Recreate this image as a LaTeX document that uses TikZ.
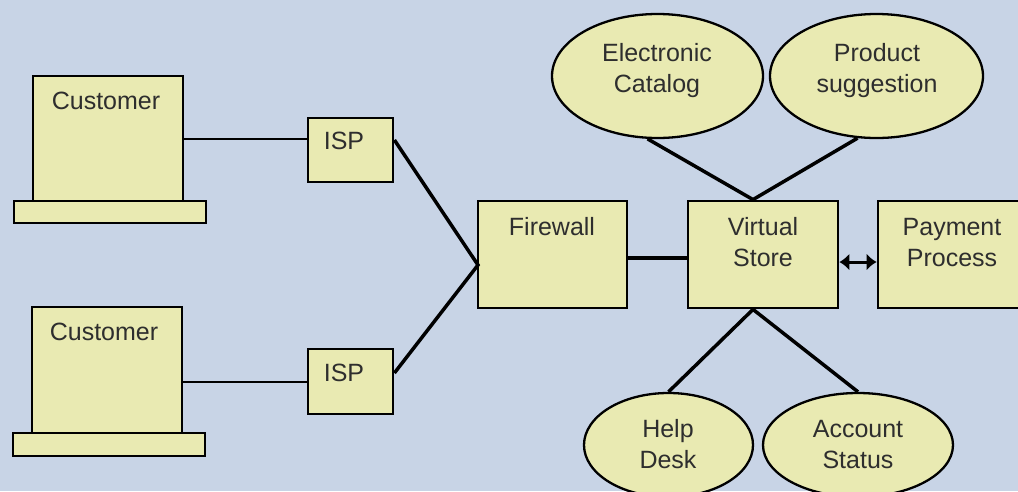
\documentclass[tikz,border=0pt]{standalone}
\usepackage{fontspec}
\setmainfont{Liberation Sans}
\usetikzlibrary{shapes.geometric,arrows.meta,calc}
\definecolor{bgc}{RGB}{200,212,230}
\definecolor{boxc}{RGB}{233,234,178}
\begin{document}
\begin{tikzpicture}[x=1pt,y=-1pt,
  box/.style={draw=black,fill=boxc,line width=2.8pt,rectangle,inner sep=0pt},
  oval/.style={draw=black,fill=boxc,line width=2.3pt,ellipse,inner sep=0pt},
  txt/.style={font=\fontsize{25}{31}\selectfont,align=center,inner sep=0pt,text=black!82},
  link/.style={line width=3.5pt},
  >={Latex[length=10pt,width=17pt]},
]
\fill[bgc] (0,0) rectangle (1018,491);
\useasboundingbox (0,0) rectangle (1018,491);

% customers
\node[box,minimum width=150pt,minimum height=126pt] (c1) at (108,139) {};
\node[box,minimum width=192pt,minimum height=22pt] (b1) at (110,212) {};
\node[box,minimum width=150pt,minimum height=127pt] (c2) at (107,370.5) {};
\node[box,minimum width=192pt,minimum height=23pt] (b2) at (109,444.5) {};
% ISPs
\node[box,minimum width=85pt,minimum height=64pt] (i1) at (350.5,150) {};
\node[box,minimum width=85pt,minimum height=65pt] (i2) at (350.5,381.5) {};
% main boxes
\node[box,minimum width=149pt,minimum height=107pt] (fw) at (552.5,254.5) {};
\node[box,minimum width=150pt,minimum height=107pt] (vs) at (763,254.5) {};
\node[box,minimum width=150pt,minimum height=107pt] (pp) at (953,254.5) {};
% ellipses
\node[oval,minimum width=211pt,minimum height=124pt] (ec) at (657.5,76) {};
\node[oval,minimum width=213pt,minimum height=124pt] (ps) at (876.5,76) {};
\node[oval,minimum width=169pt,minimum height=104pt] (hd) at (668.5,445) {};
\node[oval,minimum width=190pt,minimum height=104pt] (as) at (858,445) {};

% texts
\node[txt] (tc1) at (106,101) {Customer};
\node[txt] (tc2) at (104,332) {Customer};
\node[txt] (ti1) at (344,141) {ISP};
\node[txt] (ti2) at (344,373) {ISP};
\node[txt] (tfw) at (552,227) {Firewall};
\node[txt] (tvs) at (763,242.5) {Virtual\\Store};
\node[txt] (tpp) at (952,242.5) {Payment\\Process};
\node[txt] (tec) at (657,71) {Electronic\\Catalog};
\node[txt] (tps) at (877,71) {Product\\suggestion};
\node[txt] (thd) at (668,444.5) {Help\\Desk};
\node[txt] (tas) at (858,444.5) {Account\\Status};

% connectors
\coordinate (l1) at (0,139);
\coordinate (l2) at (0,382);
\draw[line width=2.6pt] (c1.east |- l1) -- (i1.west |- l1);
\draw[line width=2.6pt] (c2.east |- l2) -- (i2.west |- l2);
\coordinate (fwin) at (478,265);
\coordinate (o1) at (0,140);
\coordinate (o2) at (0,373);
\draw[link] (i1.east |- o1) -- (fwin) -- (i2.east |- o2);
\coordinate (l3) at (0,258);
\draw[line width=4pt] (fw.east |- l3) -- (vs.west |- l3);
\coordinate (l4) at (0,262);
\draw[line width=3pt,<->] (vs.east |- l4) -- (pp.west |- l4);
\coordinate (vstop) at ([xshift=-10pt]vs.north);
\draw[link] (ec.261) -- (vstop) -- (ps.253);
\coordinate (vsbot) at ([xshift=-10pt]vs.south);
\draw[link] (hd.north) -- (vsbot) -- (as.north);
\end{tikzpicture}
\end{document}
